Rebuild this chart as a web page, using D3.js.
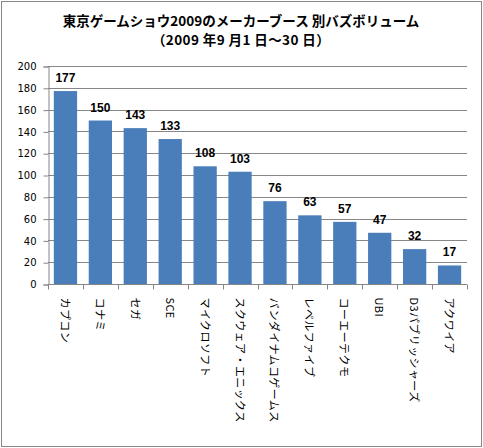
<!DOCTYPE html>
<html>
<head>
<meta charset="utf-8">
<script src="https://cdn.jsdelivr.net/npm/d3@7"></script>
<style>
  body { margin: 0; background: #fff; }
  svg { display: block; }
</style>
</head>
<body>
<svg></svg>
<script>
const width = 483;
const height = 448;

const titleLines = ['東京ゲームショウ2009のメーカーブース 別バズボリューム', '（2009 年9 月1 日～30 日）'];
const categories = ['カプコン', 'コナミ', 'セガ', 'SCE', 'マイクロソフト', 'スクウェア・エニックス',
    'バンダイナムコゲームス', 'レベルファイブ', 'コーエーテクモ', 'UBI', 'D3パブリッシャーズ', 'アクワイア'];
const values = [177, 150, 143, 133, 108, 103, 76, 63, 57, 47, 32, 17];
const yTicks = [0, 20, 40, 60, 80, 100, 120, 140, 160, 180, 200];

const plot = { left: 48, right: 467, top: 66, bottom: 284 };

const renderChart = () => {
    const svg = d3.select('svg')
        .attr('width', width)
        .attr('height', height);

    // outer frame
    svg.append('rect')
        .attr('x', 1.5).attr('y', 1.5)
        .attr('width', width - 3).attr('height', height - 3)
        .attr('fill', '#fff')
        .attr('stroke', '#868686');

    const x = d3.scaleBand()
        .domain(categories)
        .range([plot.left, plot.right]);

    const y = d3.scaleLinear()
        .domain([0, 200])
        .range([plot.bottom, plot.top]);

    // title
    svg.append('g').selectAll('text')
        .data(titleLines)
        .enter().append('text')
        .attr('x', 241)
        .attr('y', (d, i) => 26 + i * 19)
        .attr('text-anchor', 'middle')
        .style('font-family', '"Noto Sans CJK JP", sans-serif')
        .style('font-weight', 'bold')
        .style('font-size', '13.5px')
        .style('letter-spacing', (d, i) => i ? '0.4px' : '0px')
        .text(d => d);

    // gridlines
    svg.append('g').selectAll('line')
        .data(yTicks.filter(d => d > 0))
        .enter().append('line')
        .attr('x1', plot.left).attr('x2', plot.right)
        .attr('y1', d => Math.round(y(d)) + 0.5)
        .attr('y2', d => Math.round(y(d)) + 0.5)
        .attr('stroke', '#868686');

    // y axis
    const yAxis = svg.append('g')
        .attr('transform', `translate(${plot.left + 0.5},0.5)`)
        .call(d3.axisLeft(y).tickValues(yTicks).tickSize(5).tickPadding(7));
    yAxis.selectAll('line, path').attr('stroke', '#868686');
    yAxis.selectAll('text')
        .style('font-family', '"DejaVu Sans", sans-serif')
        .style('font-size', '10px')
        .attr('fill', '#000');

    // bars
    const barW = x.bandwidth() / 1.5;
    svg.append('g').selectAll('rect')
        .data(values)
        .enter().append('rect')
        .attr('x', (d, i) => x(categories[i]) + (x.bandwidth() - barW) / 2)
        .attr('y', d => y(d))
        .attr('width', barW)
        .attr('height', d => y(0) - y(d))
        .attr('fill', '#4a7ebb');

    // value labels
    svg.append('g').selectAll('text')
        .data(values)
        .enter().append('text')
        .attr('x', (d, i) => x(categories[i]) + x.bandwidth() / 2)
        .attr('y', d => y(d) - 9)
        .attr('text-anchor', 'middle')
        .style('font-family', '"Liberation Sans", sans-serif')
        .style('font-weight', 'bold')
        .style('font-size', '12px')
        .text(d => d);

    // x axis
    const xAxis = svg.append('g')
        .attr('transform', `translate(0,${plot.bottom + 0.5})`);
    xAxis.append('line')
        .attr('x1', plot.left).attr('x2', plot.right)
        .attr('stroke', '#868686');
    xAxis.selectAll('.tick')
        .data(d3.range(categories.length + 1))
        .enter().append('line')
        .attr('x1', i => Math.round(plot.left + i * x.step()) + 0.5)
        .attr('x2', i => Math.round(plot.left + i * x.step()) + 0.5)
        .attr('y1', 0).attr('y2', 5)
        .attr('stroke', '#868686');

    xAxis.selectAll('.cat')
        .data(categories)
        .enter().append('text')
        .attr('class', 'cat')
        .attr('transform', d => `translate(${x(d) + x.bandwidth() / 2 - 4.5},${13}) rotate(90)`)
        .style('font-family', '"Noto Sans CJK JP", sans-serif')
        .style('font-size', '11px')
        .style('letter-spacing', '0.4px')
        .text(d => d);
}

document.addEventListener('DOMContentLoaded', () => {
    renderChart()
});
</script>
</body>
</html>
